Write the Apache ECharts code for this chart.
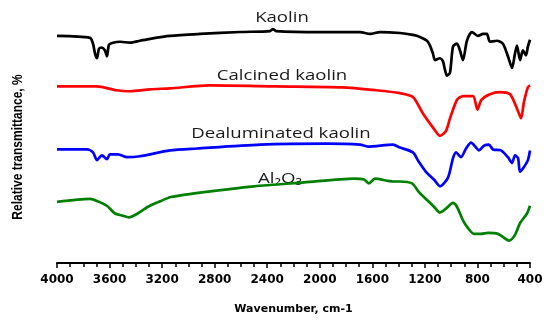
<!DOCTYPE html>
<html>
<head>
<meta charset="utf-8">
<script src="https://cdn.jsdelivr.net/npm/echarts@6/dist/echarts.min.js"></script>
<style>
  html, body { margin: 0; padding: 0; background: #fff; }
  #chart { width: 547px; height: 320px; }
</style>
</head>
<body>
<div id="chart"></div>
<script>
// [wavenumber cm-1, relative transmittance (offset, arbitrary units)]
var kaolin = [
  [4000, 234], [3749, 232], [3726, 226], [3711, 216], [3696, 211], [3680, 221], [3658, 222],
  [3635, 219], [3620, 213], [3604, 225], [3574, 227], [3521, 228], [3444, 227], [3368, 229],
  [3292, 231], [3140, 234], [2912, 236], [2607, 238], [2379, 239], [2356, 241], [2333, 239],
  [1999, 238], [1694, 238], [1618, 236], [1542, 238], [1390, 237], [1291, 235], [1238, 233],
  [1184, 229], [1161, 224], [1139, 216], [1123, 209], [1085, 211], [1063, 208], [1047, 199],
  [1032, 193], [1009, 196], [986, 223], [956, 226], [933, 219], [910, 209], [880, 229],
  [842, 238], [796, 234], [758, 236], [728, 236], [705, 228], [652, 229], [606, 226],
  [568, 213], [537, 201], [514, 216], [499, 224], [476, 209], [454, 219], [431, 214],
  [416, 223], [400, 230]
]
var calcined = [
  [4000, 182], [3696, 182], [3550, 178], [3444, 177], [3292, 179], [3140, 180], [2840, 183],
  [2333, 182], [1831, 181], [1572, 178], [1390, 175], [1291, 171], [1215, 154], [1130, 138],
  [1085, 131], [1040, 136], [1009, 149], [956, 168], [910, 172], [834, 172], [800, 158],
  [770, 168], [705, 174], [629, 176], [553, 174], [514, 164], [484, 154], [468, 149],
  [446, 166], [416, 181], [400, 183]
]
var dealuminated = [
  [4000, 117], [3772, 117], [3726, 114], [3696, 106], [3658, 111], [3620, 107], [3597, 112],
  [3536, 112], [3467, 109], [3368, 110], [3140, 116], [2935, 118], [2454, 122], [1945, 123],
  [1694, 122], [1633, 120], [1443, 122], [1390, 119], [1291, 114], [1245, 104], [1192, 94],
  [1131, 86], [1085, 79], [1024, 88], [986, 108], [963, 114], [925, 109], [887, 118],
  [849, 124], [811, 119], [789, 116], [750, 121], [713, 122], [682, 117], [621, 116],
  [568, 109], [537, 103], [514, 111], [491, 108], [476, 94], [446, 99], [416, 106], [400, 116]
]
var alumina = [
  [4000, 63], [3749, 66], [3696, 64], [3620, 59], [3559, 51], [3506, 49], [3452, 47],
  [3399, 50], [3307, 58], [3208, 64], [3132, 68], [2881, 73], [2500, 79], [2120, 83],
  [1739, 87], [1663, 86], [1625, 82], [1580, 87], [1443, 84], [1390, 84], [1298, 82],
  [1245, 73], [1192, 66], [1131, 58], [1085, 52], [1040, 56], [986, 62], [956, 58],
  [910, 44], [872, 36], [827, 30], [773, 30], [720, 31], [644, 30], [598, 26], [560, 23],
  [514, 29], [476, 41], [423, 51], [400, 59]
]
var seriesNames = ['Kaolin', 'Calcined kaolin', 'Dealuminated kaolin', 'Al\u2082O\u2083']
var seriesColors = ['#000000', '#ff0000', '#0000ff', '#008000']
var seriesData = [kaolin, calcined, dealuminated, alumina]

var chart = echarts.init(document.getElementById('chart'))

function curveLabel(text, x, y) {
  return {
    type: 'text', x: x, y: y, scaleX: 1.24,
    style: {
      text: text, fill: '#1a1a1a', fontSize: 15, fontFamily: 'Open Sans',
      align: 'center', verticalAlign: 'middle'
    }
  }
}

chart.setOption({
  backgroundColor: '#fff',
  animation: false,
  grid: { left: 57, right: 17, top: 0, bottom: 49 },
  xAxis: {
    type: 'value',
    inverse: true,
    min: 400,
    max: 4000,
    interval: 400,
    name: 'Wavenumber, cm-1',
    nameLocation: 'middle',
    nameGap: 41,
    nameTextStyle: { fontFamily: 'DejaVu Sans', fontWeight: 'bold', fontSize: 11, color: '#000' },
    axisLine: { lineStyle: { color: '#000', width: 2 } },
    axisTick: { length: 5, lineStyle: { color: '#000', width: 1.5 } },
    minorTick: { show: true, splitNumber: 4, length: 4, lineStyle: { color: '#000', width: 1.5 } },
    axisLabel: {
      fontFamily: 'DejaVu Sans', fontWeight: 'bold', fontSize: 12, color: '#000', margin: 11,
      formatter: function (v) { return String(v) }
    },
    splitLine: { show: false }
  },
  yAxis: { type: 'value', min: 0, max: 271, show: false },
  graphic: [
    curveLabel(seriesNames[0], 282, 18),
    curveLabel(seriesNames[1], 282, 76),
    curveLabel(seriesNames[2], 281, 134),
    curveLabel(seriesNames[3], 280, 179),
    {
      type: 'text', x: 18, y: 147, rotation: Math.PI / 2, scaleY: 1.25,
      style: {
        text: 'Relative transmittance, %', fill: '#000', fontSize: 12,
        fontFamily: 'Liberation Sans', fontWeight: 'bold',
        align: 'center', verticalAlign: 'middle'
      }
    }
  ],
  series: seriesData.map(function (d, i) {
    return {
      name: seriesNames[i],
      type: 'line',
      data: d,
      showSymbol: false,
      smooth: 0.25,
      lineStyle: { color: seriesColors[i], width: 2.7 }
    }
  })
})
</script>
</body>
</html>
